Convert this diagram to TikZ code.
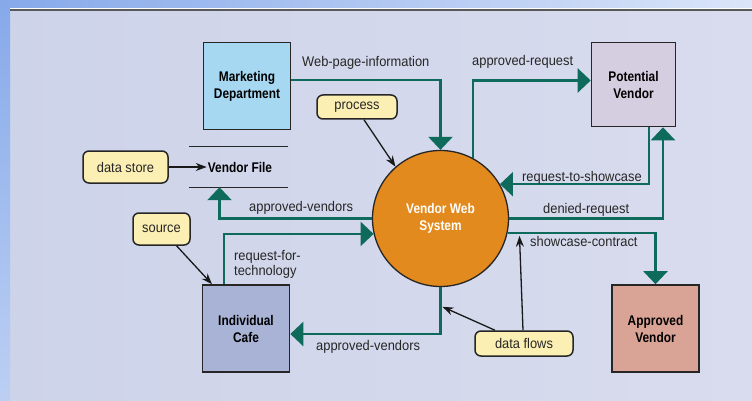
\documentclass[tikz,border=0pt]{standalone}
\usepackage{fontspec}
\setmainfont{Liberation Sans}[FakeStretch=0.92]
\newfontfamily\boldcond{Liberation Sans}[FakeStretch=0.85]
\usetikzlibrary{arrows.meta}
\definecolor{flowteal}{HTML}{0E6B5B}
\definecolor{mktblue}{HTML}{A6D8F2}
\definecolor{pvlilac}{HTML}{D5CDE0}
\definecolor{cafeblue}{HTML}{A9B3D6}
\definecolor{avsalmon}{HTML}{D9A395}
\definecolor{sysorange}{HTML}{E38A1E}
\definecolor{noteyellow}{HTML}{FCEFB4}
\definecolor{panelleft}{HTML}{CDD3E9}
\definecolor{panelright}{HTML}{D9DCEE}
\definecolor{rimblue}{HTML}{86A9EA}
\tikzset{entity/.style={draw=black!85,line width=1.6pt,minimum width=87pt,minimum height=87pt,align=center,font=\boldcond\bfseries\fontsize{14}{17}\selectfont}}
\tikzset{bubble/.style={circle,draw=black!85,line width=1.3pt,fill=sysorange,minimum size=136pt,align=center,text=white,font=\boldcond\bfseries\fontsize{14}{17}\selectfont}}
\tikzset{note/.style={draw=black!85,line width=1.5pt,rounded corners=6pt,fill=noteyellow,text=black!85,inner sep=0pt,font=\fontsize{14}{16}\selectfont}}
\tikzset{flow/.style={draw=flowteal,line width=2.4pt,-{Triangle[width=24pt,length=13pt]}}}
\tikzset{pointer/.style={draw=black!90,line width=1.3pt,-{Stealth[width=8pt,length=11pt]}}}
\tikzset{lbl/.style={anchor=base west,inner sep=0pt,text=black!85,align=left,font=\fontsize{14}{15.5}\selectfont}}
\tikzset{storeline/.style={draw=black!85,line width=1.4pt}}

\begin{document}
\begin{tikzpicture}[x=1pt,y=-1pt]
    \useasboundingbox (0,0) rectangle (752,401);
    % frame and panel
    \fill[left color=panelleft,right color=panelright] (0,0) rectangle (752,401);
    \fill[top color=rimblue,bottom color=rimblue!55!white] (0,0) rectangle (10,401);
    \fill[left color=rimblue,right color=rimblue!30!white] (0,0) rectangle (752,8);
    \fill[white] (10,8) rectangle (752,9.5);
    \fill[black!65] (10,9.5) rectangle (752,11.5);

    % entities and process
    \node[entity,fill=mktblue] (mkt) at (247,86) {Marketing\\Department};
    \node[entity,fill=pvlilac,minimum width=84pt,minimum height=84pt] (pv) at (633.5,84.5) {Potential\\Vendor};
    \node[entity,fill=cafeblue] (cafe) at (246,328.5) {Individual\\Cafe};
    \node[entity,fill=avsalmon] (av) at (655.5,328.5) {Approved\\Vendor};
    \node[bubble] (sys) at (440.5,218.5) {Vendor Web\\System};

    % data store
    \node[minimum width=99pt,minimum height=40pt,inner sep=0pt] (vfile) at (238.5,167) {};
    \node[inner sep=1pt,font=\boldcond\bfseries\fontsize{14}{17}\selectfont] (vflabel) at (240,167) {Vendor File};
    \path[storeline] (vfile.north west) -- (vfile.north east);
    \path[storeline] (vfile.south west) -- (vfile.south east);

    % callouts
    \node[note,minimum width=85pt,minimum height=32pt] (dstore) at (125.5,167) {data store};
    \node[note,minimum width=57pt,minimum height=32pt] (src) at (161.5,229) {source};
    \node[note,minimum width=80pt,minimum height=24pt] (proc) at (357,107) {process};
    \node[note,minimum width=98pt,minimum height=25pt] (dflows) at (524,343.5) {data flows};

    % data flows
    \path[flow] ([yshift=6pt]mkt.east) -| (sys.north);
    \path[flow] (sys.62) |- ([yshift=4pt]pv.west);
    \path[flow] ([xshift=15.5pt]pv.south) |- (sys.30);
    \path[flow] (sys.east) -| ([xshift=29.5pt]pv.south);
    \path[flow] (sys.-12) -| coordinate[pos=0.04] (sctap) (av.north);
    \path[flow] (sys.west) -| ([xshift=-19pt]vfile.south);
    \path[flow] ([xshift=-22pt]cafe.north) |- (sys.193);
    \path[flow] (sys.south) |- coordinate[pos=0.21] (avtap) ([yshift=-5.5pt]cafe.east);

    % flow labels
    \node[lbl] (lweb) at (302,66.5) {Web-page-information};
    \node[lbl] (lapreq) at (472,66) {approved-request};
    \node[lbl] (lshow) at (522,181) {request-to-showcase};
    \node[lbl] (ldenied) at (543,213.5) {denied-request};
    \node[lbl] (lcontract) at (530,246.5) {showcase-contract};
    \node[lbl] (lavtop) at (249,211.5) {approved-vendors};
    \node[lbl,anchor=north west] (ltech) at (234,250) {request-for-\\technology};
    \node[lbl] (lavbot) at (316,350) {approved-vendors};

    % pointers
    \path[pointer] (dstore) -- (vflabel);
    \path[pointer] ([xshift=7pt]proc.south) -- (sys.131);
    \path[pointer] ([xshift=15pt]src.south) -- ([xshift=-34pt]cafe.north);
    \path[pointer] ([xshift=-29pt]dflows.north) -- ([xshift=2pt]avtap);
    \path[pointer] ([xshift=-1pt]dflows.north) -- ([yshift=-3pt]sctap);
\end{tikzpicture}
\end{document}
